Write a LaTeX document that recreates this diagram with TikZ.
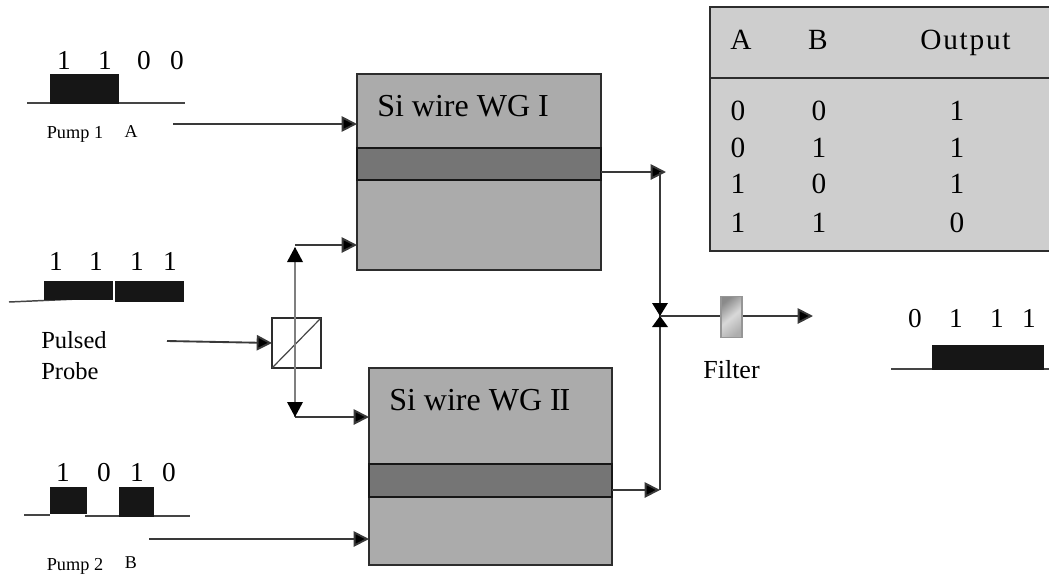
\documentclass[tikz,border=0pt]{standalone}
\usepackage{fontspec}
\setmainfont{Liberation Serif}
\newfontfamily\spaced[LetterSpace=6]{Liberation Serif}
\usetikzlibrary{arrows.meta}
\definecolor{wg}{HTML}{ABABAB}
\definecolor{band}{HTML}{757575}
\definecolor{tbl}{HTML}{CECECE}
\definecolor{ink}{HTML}{161616}
\tikzset{
  x=0.75pt,y=-0.75pt,
  wire/.style={draw=ink!85,line width=1.4pt},
  flow/.style={wire,-{Triangle[length=11.5pt,width=11.5pt,fill=black]}},
  box/.style={draw=ink!90,line width=1.1pt,inner sep=0pt,outer sep=0pt,anchor=north west},
  bandbox/.style={box,draw=ink,line width=1.4pt,fill=band},
  pulse/.style={fill=ink,draw=ink,line width=.3pt},
  base/.style={draw=ink!80,line width=1.1pt},
  txt/.style={inner sep=0pt,anchor=base},
  bit/.style={txt,font=\fontsize{20.5}{20.5}\selectfont},
  cell/.style={txt,font=\fontsize{22}{22}\selectfont},
  lab/.style={txt,anchor=base west,font=\fontsize{18.4}{18.4}\selectfont},
  small/.style={txt,font=\fontsize{13.7}{13.7}\selectfont},
  letter/.style={txt,font=\fontsize{13.5}{13.5}\selectfont},
  title/.style={txt,anchor=base west,font=\fontsize{24}{24}\selectfont},
}
\begin{document}
\begin{tikzpicture}
\useasboundingbox (0,0) rectangle (1049,575);
% table
\path[fill=tbl,draw=ink!90,line width=1.1pt] (710,7) rectangle (1052,251);
\draw[ink!90,line width=1.1pt] (710,78) -- (1052,78);
\foreach \xx/\yy/\tt in {741/49/A,818/49/B,
  738/120/0,819/120/0,957/120/1,
  738/157/0,819/157/1,957/157/1,
  738/193/1,819/193/0,957/193/1,
  738/232/1,819/232/1,957/232/0}
  \node[cell] at (\xx,\yy) {\tt};
\node[cell,font=\fontsize{22}{22}\selectfont\spaced] at (965.5,49) {Output};
% waveguides
\node[box,fill=wg,minimum width=183pt,minimum height=147pt] (wga) at (357,74) {};
\node[bandbox,minimum width=183pt,minimum height=24pt] (banda) at (357,148) {};
\node[box,fill=wg,minimum width=182.25pt,minimum height=147.75pt] (wgb) at (369,368) {};
\node[bandbox,minimum width=182.25pt,minimum height=24.75pt] (bandb) at (369,464) {};
\node[title] at (377,116) {Si wire WG I};
\node[title] at (389,410) {Si wire WG I\kern-0.8pt I};
% splitter
\node[box,minimum width=36.75pt,minimum height=37.5pt,fill=white] (split) at (272,318) {};
\draw[ink!80,line width=.9pt] (split.south west) -- (split.north east);
% pulses
\draw[base] (27,103) -- (50,103) (118,103) -- (185,103);
\path[pulse] (50,74) rectangle (118,103);
\draw[base] (9,302) -- (78,299);
\path[pulse] (44,281) rectangle (112,299) (115,281) rectangle (183,301);
\draw[base] (24,515) -- (50,515) (85,516) -- (119,516) (153,516) -- (190,516);
\path[pulse] (50,487) rectangle (86,513) (119,487) rectangle (153,516);
\draw[base] (891,369) -- (932,369) (1043,369) -- (1049,369);
\path[pulse] (932,345) rectangle (1043,369);
% bits
\foreach \xx/\tt in {64/1,105/1,144/0,177/0} \node[bit] at (\xx,69) {\tt};
\foreach \xx/\tt in {56/1,96/1,137/1,170/1} \node[bit] at (\xx,270) {\tt};
\foreach \xx/\tt in {63/1,104/0,137/1,169/0} \node[bit] at (\xx,481) {\tt};
\foreach \xx/\tt in {915/0,956/1,997/1,1029/1} \node[bit] at (\xx,327) {\tt};
% labels
\node[small] (p1) at (75,138) {Pump 1};
\node[letter] (la) at (131,137) {A};
\node[small] (p2) at (75,570) {Pump 2};
\node[letter] (lb) at (131,568) {B};
\node[lab] (pp) at (41,348) {Pulsed};
\node[lab] (pr) at (41,379) {Probe};
\node[txt,font=\fontsize{19.5}{19.5}\selectfont] (ft) at (731.5,378) {Filter};
% coordinates
\coordinate (ina) at (173,124); \coordinate (inb) at (149,539); \coordinate (inp) at (167,341);
\coordinate (up) at (295,248); \coordinate (down) at (295,417);
\coordinate (upc) at (295,245);
\coordinate (wgain) at (357,245); \coordinate (wgbin) at (369,417);
\coordinate (wgaT) at (357,124); \coordinate (wgbT) at (369,539);
\coordinate (spl) at (272,343);
\coordinate (oa) at (601,172); \coordinate (ja) at (666,172);
\coordinate (ob) at (612,490); \coordinate (jb) at (660,490);
\coordinate (ta) at (660,172);
\coordinate (mid) at (660,316);
\coordinate (end) at (813,316);
% connectors
\draw[flow] (ina) -- (wgaT);
\draw[flow] (inb) -- (wgbT);
\draw[flow] (inp) -- (spl);
\draw[wire,draw=ink!55,line width=1.7pt] (up) -- (down);
\draw[flow] (upc) -- (wgain);
\draw[flow] (down) -- (wgbin);
\fill[black] (287,262) -- (303,262) -- (295,247) -- cycle;
\fill[black] (287,402) -- (303,402) -- (295,417) -- cycle;
\draw[flow] (oa) -- (ja);
\draw[flow] (ob) -- (jb);
\draw[wire] (ta) -- (jb);
\fill[black] (652,303) -- (668,303) -- (660,316) -- cycle;
\fill[black] (652,327) -- (668,327) -- (660,316) -- cycle;
\draw[flow] (mid) -- (end);
% filter
\node[box,anchor=center,draw=ink!45,minimum width=16pt,minimum height=31pt,left color=ink!50,right color=ink!35,middle color=white!85!black,shading angle=40] (filter) at (731.5,317) {};
\end{tikzpicture}
\end{document}
